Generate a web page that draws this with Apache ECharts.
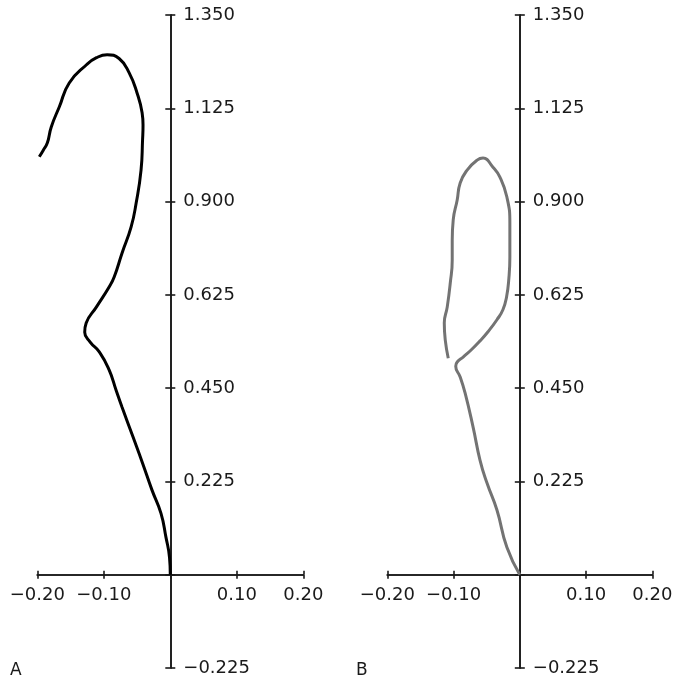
<!DOCTYPE html>
<html>
<head>
<meta charset="utf-8">
<script src="https://cdn.jsdelivr.net/npm/echarts@6/dist/echarts.min.js"></script>
<style>
html,body{margin:0;padding:0;background:#fff;}
#chart{width:678px;height:679px;}
</style>
</head>
<body>
<div id="chart"></div>
<script>
// ---- data ----
const xTickLabels = ['\u22120.20', '\u22120.10', '', '0.10', '0.20'];
const yTickLabels = ['\u22120.225', '', '0.225', '0.450', '0.625', '0.900', '1.125', '1.350'];
const panelLabels = ['A', 'B'];

const curveAX = [0, -0.0012, -0.0065, -0.014, -0.0275, -0.0417, -0.056, -0.0725, -0.0815, -0.092, -0.1065, -0.1205, -0.1287, -0.1265, -0.111, -0.092, -0.0844, -0.0725, -0.0589, -0.0514, -0.044, -0.0417, -0.041, -0.0424, -0.050, -0.062, -0.077, -0.095, -0.111, -0.126, -0.152, -0.167, -0.179, -0.185, -0.191, -0.197];
const curveAY = [0, 0.042, 0.090, 0.148, 0.204, 0.269, 0.332, 0.404, 0.445, 0.494, 0.537, 0.561, 0.585, 0.607, 0.646, 0.694, 0.718, 0.776, 0.839, 0.896, 0.976, 1.049, 1.085, 1.114, 1.162, 1.211, 1.245, 1.254, 1.247, 1.230, 1.186, 1.128, 1.080, 1.041, 1.024, 1.008];

const curveBX = [0, -0.0195, -0.0345, -0.0495, -0.060, -0.0705, -0.0825, -0.090, -0.0967, -0.0945, -0.0855, -0.0735, -0.060, -0.048, -0.0345, -0.0255, -0.020, -0.0165, -0.015, -0.015, -0.0195, -0.030, -0.0405, -0.0555, -0.0645, -0.0795, -0.090, -0.0945, -0.1005, -0.102, -0.102, -0.105, -0.1095, -0.114, -0.1125, -0.108];
const curveBY = [0, 0.066, 0.156, 0.221, 0.276, 0.356, 0.438, 0.477, 0.503, 0.513, 0.525, 0.542, 0.564, 0.586, 0.615, 0.639, 0.670, 0.715, 0.766, 0.848, 0.911, 0.959, 0.983, 1.005, 1.000, 0.976, 0.945, 0.904, 0.856, 0.807, 0.759, 0.703, 0.646, 0.607, 0.566, 0.522];

const xMin = -0.2, xMax = 0.2, xStep = 0.1;
const yMin = -0.225, yMax = 1.35, yStep = 0.225;

function zip(xs, ys) { return xs.map((x, i) => [x, ys[i]]); }

const FONT = 'DejaVu Sans';
const AXC = '#1a1a1a';
const FS = 18;

const panels = [
  { left: 37.3, top: 15, width: 266, height: 653, data: zip(curveAX, curveAY), color: '#000000', label: panelLabels[0], labelLeft: 5 },
  { left: 387.3, top: 15, width: 265, height: 653, data: zip(curveBX, curveBY), color: '#737373', label: panelLabels[1], labelLeft: 351 }
];

const gridCommon = { containLabel: false, outerBoundsMode: 'none' };
const grids = [], xAxes = [], yAxes = [], series = [], titles = [];

function hiddenAxis(gi, min, max) {
  return { type: 'value', gridIndex: gi, min: min, max: max, show: false,
           axisLine: { show: false, onZero: false }, splitLine: { show: false } };
}
function visX(gi, inside, labels) {
  return {
    type: 'value', gridIndex: gi, min: xMin, max: xMax, interval: xStep, position: 'bottom',
    axisLine: { show: true, onZero: false, lineStyle: { color: AXC, width: 1.6 } },
    axisTick: { show: true, inside: inside, length: 4, lineStyle: { color: AXC, width: 1.6 } },
    axisLabel: labels ? {
      margin: 12, fontFamily: FONT, fontSize: FS, color: '#1a1a1a',
      formatter: v => xTickLabels[Math.round((v - xMin) / xStep)]
    } : { show: false },
    splitLine: { show: false }
  };
}
function visY(gi, inside, labels) {
  return {
    type: 'value', gridIndex: gi, min: yMin, max: yMax, interval: yStep, position: 'right',
    axisLine: { show: true, onZero: false, lineStyle: { color: AXC, width: 1.6 } },
    axisTick: { show: true, inside: inside, length: 5, lineStyle: { color: AXC, width: 1.6 } },
    axisLabel: labels ? {
      margin: 13, fontFamily: FONT, fontSize: FS, color: '#1a1a1a',
      formatter: v => yTickLabels[Math.round((v - yMin) / yStep)]
    } : { show: false },
    splitLine: { show: false }
  };
}

panels.forEach(P => {
  const zeroX = P.left + P.width * (0 - xMin) / (xMax - xMin);
  const zeroY = P.top + P.height * (yMax - 0) / (yMax - yMin);

  // grid holding the x axis (its bottom edge sits at y = 0)
  const gX = grids.length;
  grids.push(Object.assign({ left: P.left, top: P.top, width: P.width, height: zeroY - P.top }, gridCommon));
  xAxes.push(visX(gX, false, true));
  xAxes.push(visX(gX, true, false));
  yAxes.push(hiddenAxis(gX, 0, yMax));

  // grid holding the y axis (its right edge sits at x = 0)
  const gY = grids.length;
  grids.push(Object.assign({ left: P.left, top: P.top, width: zeroX - P.left, height: P.height }, gridCommon));
  yAxes.push(visY(gY, false, true));
  yAxes.push(visY(gY, true, false));
  xAxes.push(hiddenAxis(gY, xMin, 0));

  // plot grid for the curve
  const gP = grids.length;
  grids.push(Object.assign({ left: P.left, top: P.top, width: P.width, height: P.height }, gridCommon));
  const xi = xAxes.length; xAxes.push(hiddenAxis(gP, xMin, xMax));
  const yi = yAxes.length; yAxes.push(hiddenAxis(gP, yMin, yMax));

  series.push({
    type: 'line', xAxisIndex: xi, yAxisIndex: yi, data: P.data,
    smooth: 0.5, showSymbol: false, symbol: 'none', z: 5,
    lineStyle: { color: P.color, width: 3 }
  });

  titles.push({ text: P.label, left: P.labelLeft, top: 657,
    textStyle: { fontFamily: FONT, fontSize: 17, fontWeight: 'normal', color: '#1a1a1a' } });
});

const chart = echarts.init(document.getElementById('chart'), null, { renderer: 'canvas' });
chart.setOption({
  animation: false,
  backgroundColor: '#fff',
  title: titles,
  grid: grids,
  xAxis: xAxes,
  yAxis: yAxes,
  series: series
});
</script>
</body>
</html>
